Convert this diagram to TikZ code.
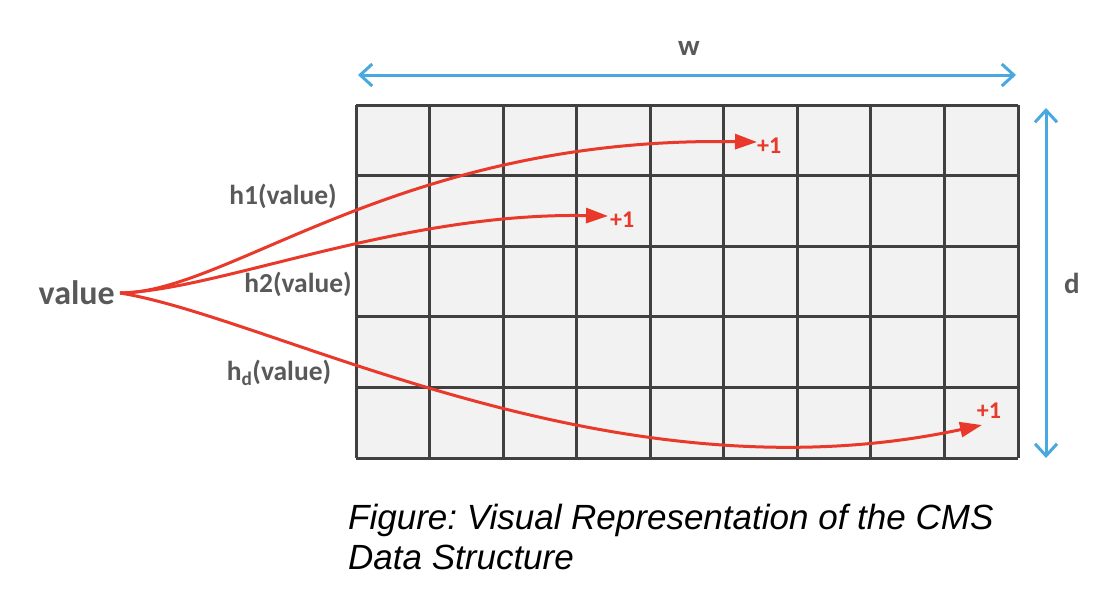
\documentclass[tikz,border=0pt]{standalone}
\usepackage{fontspec}
\setmainfont{Carlito}
\newfontfamily\capfont{Liberation Sans}
\usetikzlibrary{arrows.meta}
\definecolor{gridline}{HTML}{404040}
\definecolor{cellfill}{HTML}{F2F2F2}
\definecolor{hred}{HTML}{E8392A}
\definecolor{dimblue}{HTML}{4AA8E0}
\definecolor{labgray}{HTML}{595959}
\tikzset{
  hasharrow/.style={draw=hred, line width=3pt, -{Triangle[length=22pt,width=15pt]}},
  dimarrow/.style={draw=dimblue, line width=3pt, {Straight Barb[length=12pt,width=22pt,line width=3pt]}-{Straight Barb[length=12pt,width=22pt,line width=3pt]}},
  hashlabel/.style={text=labgray, font=\bfseries\fontsize{27.5}{29}\selectfont, inner sep=0pt},
  pluslabel/.style={text=hred, font=\bfseries\fontsize{24}{26}\selectfont, inner sep=0pt},
  dimlabel/.style={text=labgray, font=\bfseries\fontsize{29}{31}\selectfont, inner sep=0pt},
}
\begin{document}
\frenchspacing
\begin{tikzpicture}[x=1pt,y=-1pt]
\useasboundingbox (0,0) rectangle (1110,598);
% grid
\fill[cellfill] (356,105) rectangle (1018,458);
\foreach \x in {356,429.6,503.1,576.7,650.2,723.8,797.3,870.9,944.4,1018}
  \draw[gridline, line width=3pt] (\x,105) -- (\x,458);
\foreach \y in {105,175.6,246.2,316.8,387.4,458}
  \draw[gridline, line width=3pt] (356,\y) -- (1018,\y);
% dimensions
\coordinate (wl) at (358,75);
\coordinate (wr) at (1016,75);
\draw[dimarrow] (wl) -- (wr);
\node[dimlabel] (w) at (689,48) {w};
\coordinate (dt) at (1046,108);
\coordinate (db) at (1046,458);
\draw[dimarrow] (dt) -- (db);
\node[dimlabel] (d) at (1072,283) {d};
% value
\node[text=labgray, font=\bfseries\fontsize{34}{36}\selectfont, inner sep=0pt, anchor=east] (value) at (115,293) {value};
\coordinate (src) at (120,293);
\coordinate (t1) at (757,142);
\coordinate (t2) at (608,216);
\coordinate (t3) at (982,425);
\draw[hasharrow] (src) .. controls (230,293) and (400,136) .. (t1);
\draw[hasharrow] (src) .. controls (220,290) and (400,212) .. (t2);
\draw[hasharrow] (src) .. controls (275,318) and (610,505) .. (t3);
\node[pluslabel, anchor=west] (p1) at (t1) [xshift=0pt,yshift=-4pt] {+1};
\node[pluslabel, anchor=west] (p2) at (t2) [xshift=2pt,yshift=-4pt] {+1};
\node[pluslabel] (p3) at (989,411) {+1};
\node[hashlabel] (h1) at (283,196) {h1(value)};
\node[hashlabel] (h2) at (298,284) {h2(value)};
\node[hashlabel] (hd) at (279,373) {h\textsubscript{d}(value)};
% caption
\node[font=\capfont\itshape\fontsize{35}{40}\selectfont, align=left, anchor=base west, inner sep=0pt] (cap) at (348,569) {Figure: Visual Representation of the CMS\\Data Structure};
\end{tikzpicture}
\end{document}
